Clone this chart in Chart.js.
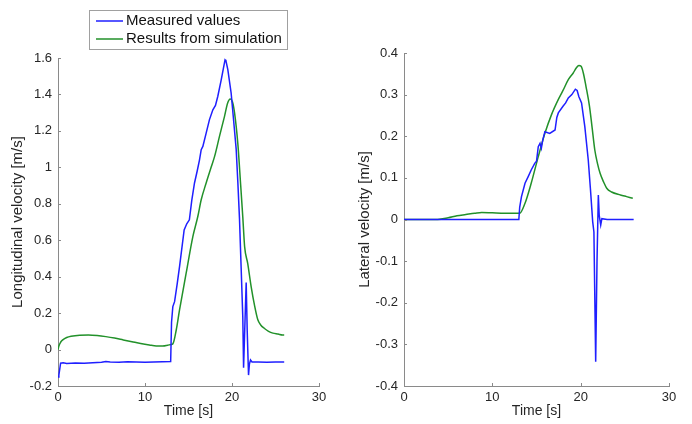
<!DOCTYPE html>
<html>
<head>
<meta charset="utf-8">
<script src="https://cdn.jsdelivr.net/npm/chart.js@4/dist/chart.umd.min.js"></script>
<style>
  body { margin: 0; background: #fff; }
  #wrap { position: relative; width: 692px; height: 424px; }
  #wrap canvas { position: absolute; top: 0; }
</style>
</head>
<body>
<div id="wrap">
  <canvas id="longChart" width="346" height="424" style="left:0"></canvas>
  <canvas id="latChart" width="346" height="424" style="left:346px"></canvas>
</div>
<script>
// series names
const seriesLabels = ['Measured values', 'Results from simulation'];

// longitudinal velocity, measured
const longMeasTime = [0, 0.1, 0.3, 0.6, 1, 2, 3, 4, 5, 5.5, 6, 7, 8, 9, 10, 11, 12, 12.95, 13.05, 13.2, 13.4, 13.7, 13.97, 14.5, 14.8, 15.1, 15.38, 15.69, 16.0, 16.26, 16.46, 16.65, 17.03, 17.41, 17.8, 18.1, 18.37, 18.76, 19.0, 19.2, 19.3, 19.52, 19.9, 20.2, 20.48, 20.67, 20.86, 21.05, 21.24, 21.33, 21.63, 21.75, 21.9, 22.0, 22.13, 22.3, 23, 24, 25, 26];
const longMeasVel = [-0.15, -0.14, -0.075, -0.072, -0.076, -0.074, -0.075, -0.072, -0.07, -0.066, -0.068, -0.069, -0.067, -0.068, -0.07, -0.068, -0.067, -0.066, 0.15, 0.236, 0.263, 0.36, 0.455, 0.657, 0.69, 0.712, 0.82, 0.914, 0.98, 1.04, 1.097, 1.115, 1.188, 1.262, 1.316, 1.34, 1.39, 1.48, 1.54, 1.59, 1.585, 1.536, 1.408, 1.25, 1.1, 0.92, 0.72, 0.45, 0.18, -0.1, 0.368, 0.1, -0.14, -0.08, -0.057, -0.068, -0.068, -0.07, -0.068, -0.068];

// longitudinal velocity, simulated
const longSimTime = [0, 0.1, 0.3, 0.55, 1.0, 1.5, 2.5, 3.5, 4.5, 5.5, 6.5, 7.5, 8.5, 9.5, 10.5, 11.3, 12.05, 12.6, 13.0, 13.2, 13.6, 13.97, 14.73, 15.5, 16.07, 16.46, 17.03, 17.6, 18.0, 18.56, 19.14, 19.5, 19.8, 20.05, 20.29, 20.67, 21.0, 21.25, 21.45, 21.8, 22.2, 22.6, 22.97, 23.3, 23.7, 24.2, 24.7, 25.3, 25.8, 26.0];
const longSimVel = [0.0, 0.02, 0.04, 0.053, 0.066, 0.073, 0.079, 0.08, 0.077, 0.071, 0.063, 0.053, 0.043, 0.033, 0.025, 0.02, 0.02, 0.024, 0.028, 0.031, 0.11, 0.218, 0.419, 0.62, 0.73, 0.822, 0.914, 1.0, 1.06, 1.17, 1.28, 1.353, 1.375, 1.36, 1.3, 1.13, 0.9, 0.72, 0.565, 0.474, 0.346, 0.24, 0.163, 0.135, 0.117, 0.1, 0.09, 0.085, 0.08, 0.08];

// lateral velocity, measured
const latMeasTime = [0, 5, 10, 13.0, 13.1, 13.3, 13.7, 14.06, 14.4, 14.8, 15.0, 15.2, 15.4, 15.55, 15.7, 15.95, 16.5, 17.1, 17.3, 17.47, 18.0, 18.3, 18.6, 19.0, 19.4, 19.6, 19.8, 20.1, 20.47, 20.86, 21.1, 21.36, 21.5, 21.7, 21.85, 22.0, 22.1, 22.27, 22.4, 23, 24, 25, 26];
const latMeasVel = [0, 0, 0, 0, 0.03, 0.055, 0.087, 0.103, 0.119, 0.135, 0.14, 0.175, 0.183, 0.171, 0.19, 0.211, 0.207, 0.215, 0.245, 0.256, 0.272, 0.28, 0.292, 0.3, 0.313, 0.31, 0.295, 0.28, 0.223, 0.143, 0.075, -0.005, -0.03, -0.342, -0.1, 0.059, 0.01, -0.013, 0.002, 0, 0, 0, 0];

// lateral velocity, simulated
const latSimTime = [0, 3.8, 5.0, 6.0, 7.0, 8.0, 8.8, 10.0, 11.4, 12.5, 13.1, 13.7, 14.4, 15.2, 15.95, 16.7, 17.46, 18.0, 18.6, 19.16, 19.5, 19.8, 20.05, 20.3, 20.6, 21.0, 21.3, 21.6, 21.9, 22.2, 22.6, 22.95, 23.5, 24.5, 25.2, 25.9];
const latSimVel = [0, 0.0, 0.004, 0.009, 0.012, 0.015, 0.017, 0.016, 0.015, 0.015, 0.015, 0.039, 0.087, 0.151, 0.207, 0.252, 0.288, 0.31, 0.336, 0.352, 0.364, 0.37, 0.368, 0.352, 0.32, 0.272, 0.22, 0.167, 0.135, 0.111, 0.09, 0.075, 0.066, 0.059, 0.055, 0.051];

// axis ticks
const timeTicks = [0, 10, 20, 30];
const longTicks = [-0.2, 0, 0.2, 0.4, 0.6, 0.8, 1, 1.2, 1.4, 1.6];
const latTicks = [-0.4, -0.3, -0.2, -0.1, 0, 0.1, 0.2, 0.3, 0.4];

const FONT = '"Liberation Sans", Arial, Helvetica, sans-serif';
const BLUE = '#1f1fff';
const GREEN = '#22912a';
const AXIS = '#8a8a8a';
const TEXT = '#262626';

function toPoints(ts, vs) {
  return ts.map((t, i) => ({ x: t, y: vs[i] }));
}

// small tick marks pointing into the plot, matlab style
const inwardTicks = {
  id: 'inwardTicks',
  afterDraw(chart) {
    const { ctx, chartArea, scales } = chart;
    ctx.save();
    ctx.strokeStyle = AXIS;
    ctx.lineWidth = 1;
    ctx.beginPath();
    scales.x.ticks.forEach(tk => {
      const px = Math.round(scales.x.getPixelForValue(tk.value)) + 0.5;
      ctx.moveTo(px, chartArea.bottom);
      ctx.lineTo(px, chartArea.bottom - 3);
    });
    scales.y.ticks.forEach(tk => {
      const py = Math.round(scales.y.getPixelForValue(tk.value)) + 0.5;
      ctx.moveTo(chartArea.left, py);
      ctx.lineTo(chartArea.left + 3, py);
    });
    ctx.stroke();
    ctx.restore();
  }
};

// boxed legend in the upper part of the left plot
const legendBox = {
  id: 'legendBox',
  afterDraw(chart) {
    const ctx = chart.ctx;
    ctx.save();
    ctx.fillStyle = '#fff';
    ctx.fillRect(89.5, 10.5, 198, 39);
    ctx.strokeStyle = '#a0a0a0';
    ctx.lineWidth = 1;
    ctx.strokeRect(89.5, 10.5, 198, 39);
    chart.data.datasets.forEach((ds, i) => {
      const y = 21 + i * 18;
      ctx.strokeStyle = ds.borderColor;
      ctx.lineWidth = 1.5;
      ctx.beginPath();
      ctx.moveTo(96, y);
      ctx.lineTo(123, y);
      ctx.stroke();
      ctx.fillStyle = '#111';
      ctx.font = '15px ' + FONT;
      ctx.textBaseline = 'middle';
      ctx.fillText(ds.label, 126, y);
    });
    ctx.restore();
  }
};

function makeChart(id, meas, sim, yTicks, yTitle, pad, extra) {
  const plugins = [inwardTicks];
  if (extra) plugins.push(extra);
  return new Chart(document.getElementById(id), {
    type: 'line',
    data: {
      datasets: [
        { label: seriesLabels[0], data: meas, borderColor: BLUE, borderWidth: 1.5, pointRadius: 0, tension: 0 },
        { label: seriesLabels[1], data: sim, borderColor: GREEN, borderWidth: 1.5, pointRadius: 0, cubicInterpolationMode: 'monotone' }
      ]
    },
    options: {
      responsive: false,
      animation: false,
      layout: { padding: { top: pad.top, right: pad.right, left: 0, bottom: 0 } },
      plugins: { legend: { display: false }, tooltip: { enabled: false } },
      scales: {
        x: {
          type: 'linear',
          min: timeTicks[0],
          max: timeTicks[timeTicks.length - 1],
          afterBuildTicks: s => { s.ticks = timeTicks.map(v => ({ value: v })); },
          afterFit: s => { s.height = 38; s.paddingLeft = 0; s.paddingRight = 0; },
          grid: { display: false, drawTicks: false },
          border: { display: true, color: AXIS, width: 1 },
          ticks: { color: TEXT, padding: 4, font: { family: FONT, size: 13 }, maxRotation: 0 },
          title: { display: true, text: 'Time [s]', color: TEXT, font: { family: FONT, size: 14 }, padding: { top: 0, bottom: 4 } }
        },
        y: {
          type: 'linear',
          min: yTicks[0],
          max: yTicks[yTicks.length - 1],
          afterBuildTicks: s => { s.ticks = yTicks.map(v => ({ value: v })); },
          afterFit: s => { s.width = pad.left; s.paddingTop = 0; s.paddingBottom = 0; },
          grid: { display: false, drawTicks: false },
          border: { display: true, color: AXIS, width: 1 },
          ticks: { color: TEXT, padding: 6, font: { family: FONT, size: 13 }, callback: v => String(+v.toFixed(2)) },
          title: { display: true, text: yTitle, color: TEXT, font: { family: FONT, size: 15 }, padding: { top: pad.title, bottom: 0 } }
        }
      }
    },
    plugins: plugins
  });
}

makeChart('longChart', toPoints(longMeasTime, longMeasVel), toPoints(longSimTime, longSimVel),
  longTicks, 'Longitudinal velocity [m/s]', { top: 58, right: 27, left: 58, title: 9 }, legendBox);

makeChart('latChart', toPoints(latMeasTime, latMeasVel), toPoints(latSimTime, latSimVel),
  latTicks, 'Lateral velocity [m/s]', { top: 53, right: 23, left: 58, title: 10 });
</script>
</body>
</html>
